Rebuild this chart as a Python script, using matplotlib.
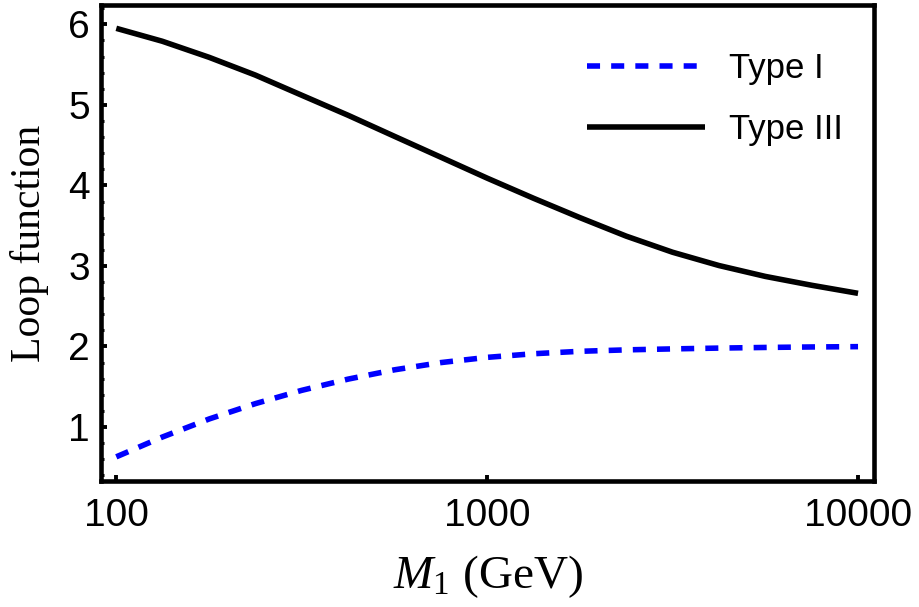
import matplotlib
matplotlib.use("Agg")
import matplotlib.pyplot as plt
from matplotlib.ticker import FixedLocator, MultipleLocator, NullLocator

# Data (eighth-decade sampling)
mass = [100, 133, 178, 237, 316, 422, 562, 750, 1000, 1334, 1778, 2371,
        3162, 4217, 5623, 7499, 10000]
type1 = [0.63, 0.875, 1.10, 1.29, 1.455, 1.595, 1.71, 1.80, 1.865, 1.91,
         1.94, 1.958, 1.97, 1.98, 1.988, 1.994, 1.998]
type3 = [5.95, 5.79, 5.59, 5.37, 5.12, 4.87, 4.61, 4.35, 4.09, 3.84, 3.60,
         3.37, 3.17, 3.005, 2.87, 2.76, 2.66]
xticks = [100, 1000, 10000]
xticklabels = ["100", "1000", "10000"]
yticks = [1, 2, 3, 4, 5, 6]

plt.rcParams['lines.scale_dashes'] = False
plt.rcParams['mathtext.fontset'] = 'custom'
plt.rcParams['mathtext.it'] = 'Liberation Serif:italic'
plt.rcParams['mathtext.rm'] = 'Liberation Serif'
plt.rcParams['mathtext.bf'] = 'Liberation Serif:bold'

fig = plt.figure(figsize=(9.19, 6.07), dpi=100)
ax = fig.add_axes([0.110, 0.2076, 0.841, 0.7842])

ax.plot(mass, type1, color=(0, 0, 1), lw=4.0, dashes=(9.4, 8.0),
        dash_capstyle='butt', label='Type I')
ax.plot(mass, type3, color='black', lw=4.0, solid_capstyle='butt',
        label='Type III')

ax.set_xscale('log')
ax.set_xlim(91, 11040)
ax.set_ylim(0.33, 6.24)

ax.xaxis.set_major_locator(FixedLocator(xticks))
ax.set_xticklabels(xticklabels)
ax.xaxis.set_minor_locator(NullLocator())
ax.yaxis.set_major_locator(FixedLocator(yticks))
ax.yaxis.set_minor_locator(MultipleLocator(0.2))

for s in ax.spines.values():
    s.set_linewidth(3.3)

ax.tick_params(axis='both', which='major', direction='in', length=4.5, width=2.8,
               top=False, right=False)
ax.tick_params(axis='y', which='minor', direction='in', length=2.5, width=2.2,
               right=False)
ax.tick_params(axis='x', which='major', pad=12)
ax.tick_params(axis='y', which='major', pad=8)
for lab in ax.get_xticklabels() + ax.get_yticklabels():
    lab.set_fontfamily('Liberation Sans')
    lab.set_fontsize(28)

ax.set_ylabel('Loop function', family='Liberation Serif', fontsize=30, labelpad=14)
ax.set_xlabel(r'$M_1$ (GeV)', family='Liberation Serif', fontsize=34, labelpad=14)

leg = ax.legend(loc='upper left', bbox_to_anchor=(587 / 919, 1 - 52 / 607),
                bbox_transform=fig.transFigure, frameon=False,
                prop=dict(family='Liberation Sans', size=25),
                handlelength=3.4, handletextpad=0.7, labelspacing=0.8,
                borderpad=0, borderaxespad=0)

fig.savefig('out.png', dpi=100)
